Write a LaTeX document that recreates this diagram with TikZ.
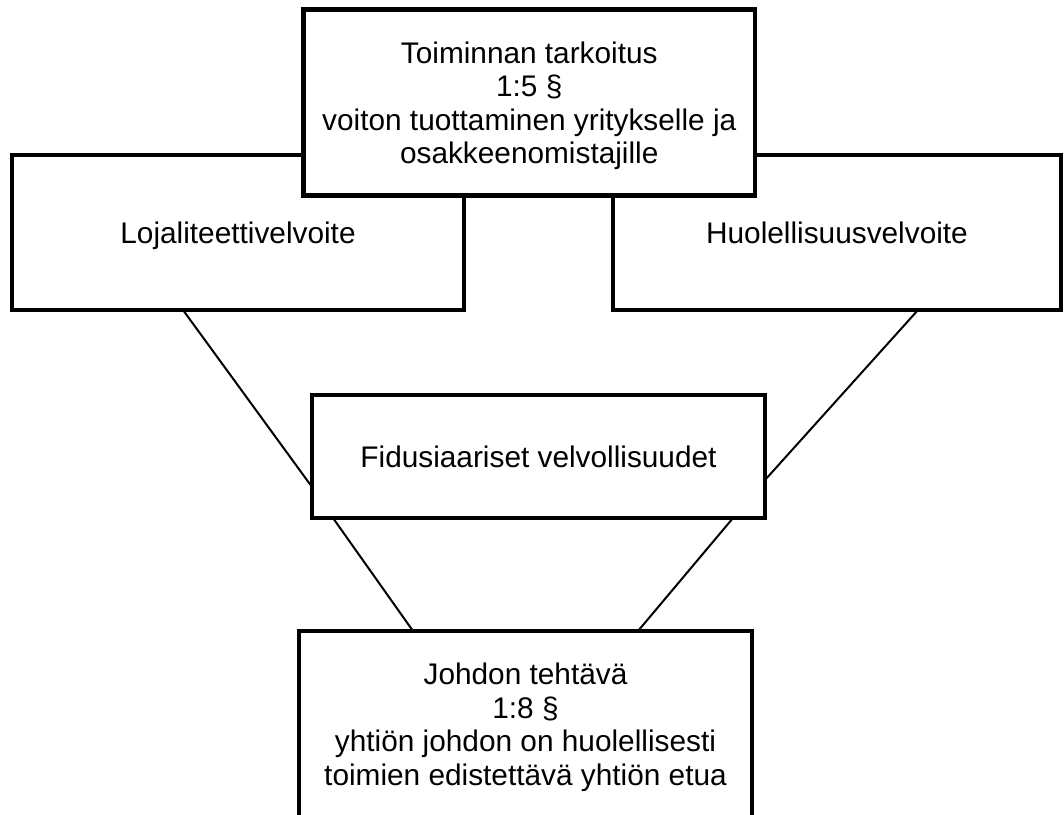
\documentclass[tikz,border=0pt]{standalone}
\usepackage{fontspec}
\setmainfont{Liberation Sans}
\usetikzlibrary{calc}
\begin{document}
\begin{tikzpicture}[x=1pt,y=-1pt,
  box/.style={draw=black,line width=4.5pt,fill=white,rectangle,outer sep=0pt,inner sep=0pt,
    align=center,font=\fontsize{29.8}{33.5}\selectfont,line join=miter,text depth=0pt},
  link/.style={draw=black,line width=2pt}]
\fill[white] (0,0) rectangle (1064,814);
\useasboundingbox (0,0) rectangle (1064,814);
% side boxes
\node[box,minimum width=452pt,minimum height=155pt] (L) at (238,232.5) {Lojaliteettivelvoite};
\node[box,minimum width=448pt,minimum height=155pt] (R) at (837,232.5) {Huolellisuusvelvoite};
% top box
\node[box,minimum width=451.5pt,minimum height=186pt] (T) at (529.25,102.5)
  {Toiminnan tarkoitus\\1:5 §\\voiton tuottaminen yritykselle ja\\osakkeenomistajille};
% middle box
\node[box,minimum width=453pt,minimum height=123pt] (M) at (538.5,456.5) {Fidusiaariset velvollisuudet};
% bottom box
\node[box,minimum width=453pt,minimum height=186pt] (B) at (525.5,724)
  {Johdon tehtävä\\1:8 §\\yhtiön johdon on huolellisesti\\toimien edistettävä yhtiön etua};
% connectors
\draw[link] ($(L.south west)+(171,0)$) -- ($(M.north west)+(0,92)$);
\draw[link] ($(R.south west)+(305,0)$) -- ($(M.north east)+(0,85)$);
\draw[link] ($(M.south west)+(21,0)$) -- ($(B.north west)+(114,0)$);
\draw[link] ($(M.south west)+(421,0)$) -- ($(B.north west)+(339,0)$);
\end{tikzpicture}
\end{document}
